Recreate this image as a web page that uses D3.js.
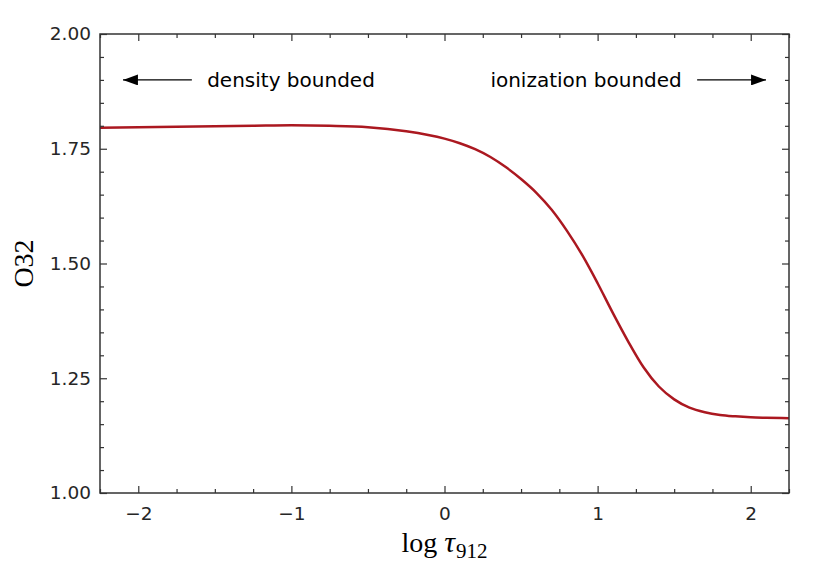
<!DOCTYPE html>
<html>
<head>
<meta charset="utf-8">
<script src="https://cdn.jsdelivr.net/npm/d3@7"></script>
<style>
  html, body { margin: 0; padding: 0; background: #fff; }
  svg { display: block; }
</style>
</head>
<body>
<svg id="chart" width="830" height="571"></svg>
<script>
// ---- data ----
const logTau = [-2.25, -2.0, -1.75, -1.5, -1.25, -1.0, -0.75, -0.5, -0.25, 0.0,
                 0.1, 0.2, 0.3, 0.4, 0.5, 0.6, 0.7, 0.8, 0.9, 1.0,
                 1.1, 1.2, 1.3, 1.4, 1.5, 1.6, 1.7, 1.8, 1.9, 2.0, 2.1, 2.25];
const o32 = [1.796, 1.797, 1.798, 1.799, 1.800, 1.801, 1.800, 1.797, 1.788, 1.772,
             1.762, 1.749, 1.732, 1.710, 1.684, 1.654, 1.617, 1.571, 1.518, 1.457,
             1.392, 1.330, 1.274, 1.232, 1.204, 1.186, 1.176, 1.170, 1.167, 1.165, 1.164, 1.163];
const xMajorTicks = [-2, -1, 0, 1, 2];
const xMinorTicks = [-2.25, -1.75, -1.5, -1.25, -0.75, -0.5, -0.25, 0.25, 0.5, 0.75, 1.25, 1.5, 1.75, 2.25];
const yMajorTicks = [1.00, 1.25, 1.50, 1.75, 2.00];
const yMinorTicks = [1.05, 1.10, 1.15, 1.20, 1.30, 1.35, 1.40, 1.45, 1.55, 1.60, 1.65, 1.70, 1.80, 1.85, 1.90, 1.95];
const annoLabels = ["density bounded", "ionization bounded"];
const annoTextX = [-1.55, 1.55];
const annoArrowFrom = [-1.65, 1.65];
const annoArrowTo = [-2.10, 2.10];
const annoY = 1.90;

// ---- layout ----
const L = 100, R = 789, T = 34, B = 493;
const svg = d3.select("#chart");
const x = d3.scaleLinear().domain([-2.25, 2.25]).range([L, R]);
const y = d3.scaleLinear().domain([1.0, 2.0]).range([B, T]);

const axisColor = "#333";
const tickFont = "DejaVu Sans, sans-serif";

svg.append("defs").append("marker")
  .attr("id", "head")
  .attr("viewBox", "0 0 15 11")
  .attr("refX", 15).attr("refY", 5.5)
  .attr("markerWidth", 15).attr("markerHeight", 11)
  .attr("markerUnits", "userSpaceOnUse")
  .attr("orient", "auto")
  .append("path").attr("d", "M0,0 L15,5.5 L0,11 Z").attr("fill", "#000");

// curve
svg.append("path")
  .datum(logTau.map((d, i) => [d, o32[i]]))
  .attr("fill", "none")
  .attr("stroke", "#ab1820")
  .attr("stroke-width", 2.5)
  .attr("stroke-linejoin", "round")
  .attr("d", d3.line().x(d => x(d[0])).y(d => y(d[1])).curve(d3.curveMonotoneX));

// axes helper
function styleAxis(g) {
  g.select(".domain").remove();
  g.selectAll(".tick line").attr("stroke", axisColor).attr("stroke-width", 1.2);
  g.selectAll(".tick text").attr("fill", "#262626").attr("font-family", tickFont).attr("font-size", "18.5px");
}

// bottom
svg.append("g").attr("transform", `translate(0,${B})`)
  .call(d3.axisBottom(x).tickValues(xMajorTicks).tickSize(-7).tickPadding(14).tickFormat(d3.format("d")))
  .call(styleAxis);
svg.append("g").attr("transform", `translate(0,${B})`)
  .call(d3.axisBottom(x).tickValues(xMinorTicks).tickSize(-4).tickFormat(""))
  .call(styleAxis);
// top
svg.append("g").attr("transform", `translate(0,${T})`)
  .call(d3.axisTop(x).tickValues(xMajorTicks).tickSize(-7).tickFormat(""))
  .call(styleAxis);
svg.append("g").attr("transform", `translate(0,${T})`)
  .call(d3.axisTop(x).tickValues(xMinorTicks).tickSize(-4).tickFormat(""))
  .call(styleAxis);
// left
svg.append("g").attr("transform", `translate(${L},0)`)
  .call(d3.axisLeft(y).tickValues(yMajorTicks).tickSize(-7).tickPadding(9).tickFormat(d3.format(".2f")))
  .call(styleAxis);
svg.append("g").attr("transform", `translate(${L},0)`)
  .call(d3.axisLeft(y).tickValues(yMinorTicks).tickSize(-4).tickFormat(""))
  .call(styleAxis);
// right
svg.append("g").attr("transform", `translate(${R},0)`)
  .call(d3.axisRight(y).tickValues(yMajorTicks).tickSize(-7).tickFormat(""))
  .call(styleAxis);
svg.append("g").attr("transform", `translate(${R},0)`)
  .call(d3.axisRight(y).tickValues(yMinorTicks).tickSize(-4).tickFormat(""))
  .call(styleAxis);

// frame
svg.append("rect")
  .attr("x", L).attr("y", T).attr("width", R - L).attr("height", B - T)
  .attr("fill", "none").attr("stroke", axisColor).attr("stroke-width", 1.5);

// annotations
annoLabels.forEach((lab, i) => {
  svg.append("line")
    .attr("x1", x(annoArrowFrom[i])).attr("y1", y(annoY))
    .attr("x2", x(annoArrowTo[i])).attr("y2", y(annoY))
    .attr("stroke", "#000").attr("stroke-width", 1.2)
    .attr("marker-end", "url(#head)");
  svg.append("text")
    .attr("x", x(annoTextX[i])).attr("y", y(annoY))
    .attr("dy", "0.35em")
    .attr("text-anchor", i === 0 ? "start" : "end")
    .attr("font-family", tickFont).attr("font-size", "20px").attr("fill", "#000")
    .text(lab);
});

// axis labels
const serif = "Liberation Serif, Times New Roman, serif";
const xl = svg.append("text")
  .attr("x", x(0)).attr("y", 552)
  .attr("text-anchor", "middle")
  .attr("font-family", serif).attr("font-size", "28px").attr("fill", "#000");
xl.append("tspan").text("log ");
xl.append("tspan").attr("font-style", "italic").attr("font-size", "30px").text("τ");
xl.append("tspan").attr("font-size", "21px").attr("dy", 6).attr("dx", 1).text("912");

svg.append("text")
  .attr("transform", `translate(33,${(T + B) / 2}) rotate(-90)`)
  .attr("text-anchor", "middle")
  .attr("font-family", serif).attr("font-size", "28px").attr("fill", "#000")
  .text("O32");
</script>
</body>
</html>
